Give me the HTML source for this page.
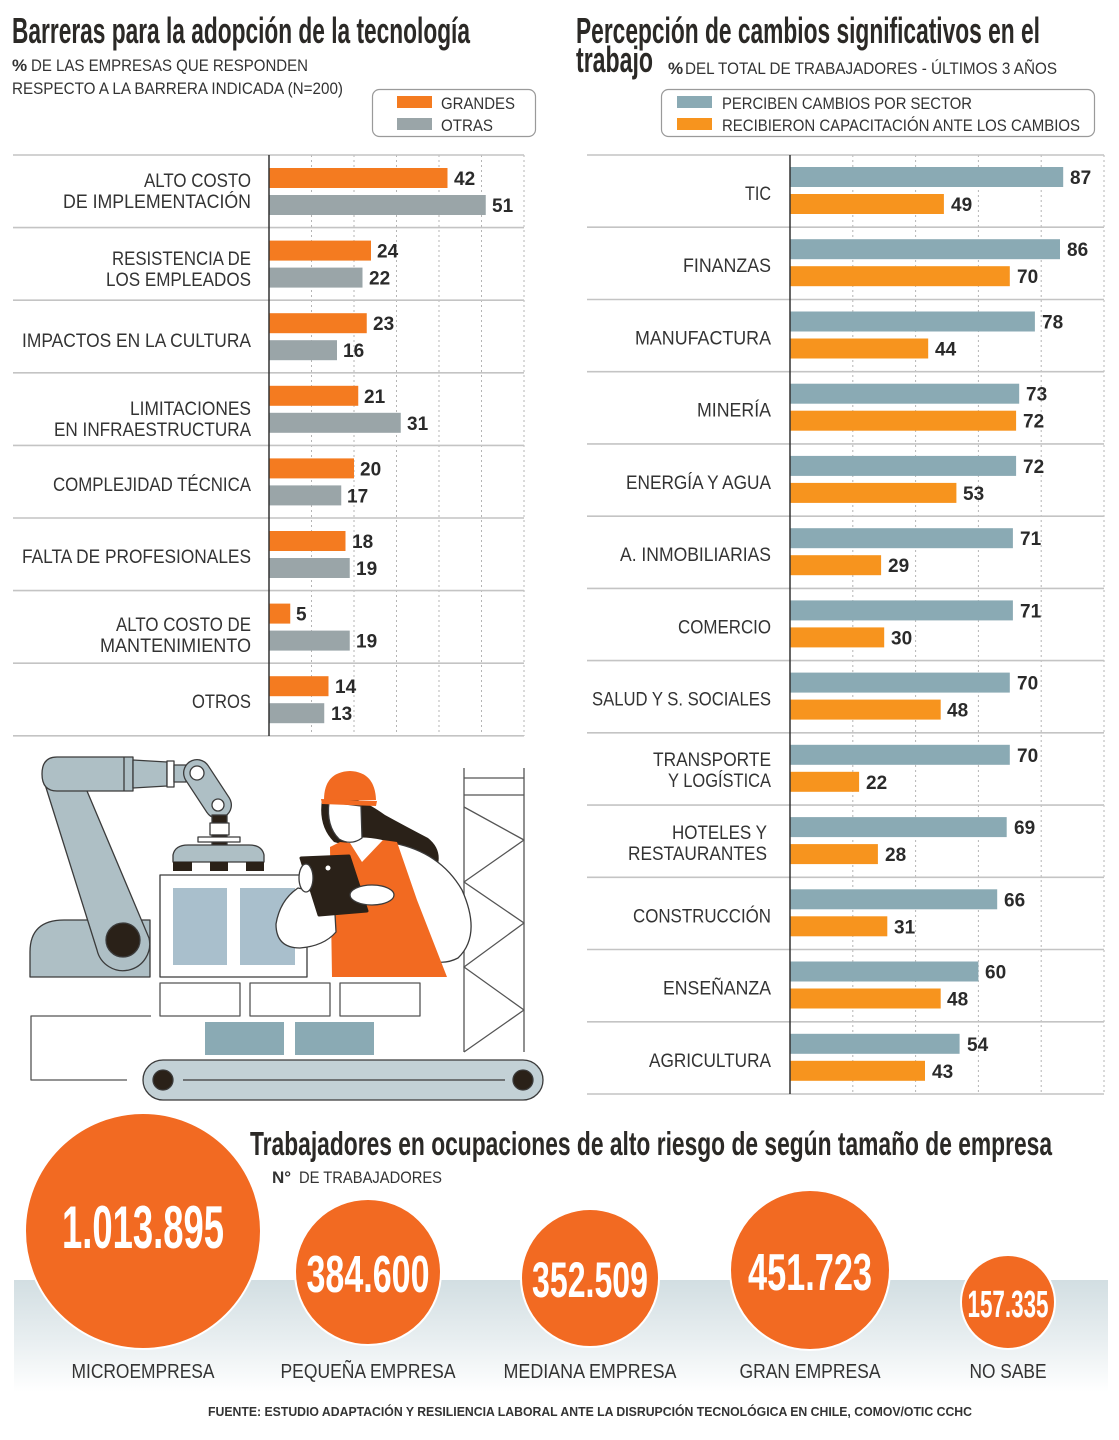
<!DOCTYPE html>
<html><head><meta charset="utf-8"><style>
html,body{margin:0;padding:0;background:#fff;}
svg{display:block;}
.t{font-family:"Liberation Sans Narrow","Liberation Sans",sans-serif;font-weight:bold;fill:#2b2926;}
.l{font-family:"Liberation Sans",sans-serif;font-size:19px;fill:#333;}
.v{font-family:"Liberation Sans",sans-serif;font-size:19px;font-weight:bold;fill:#2a2a2a;}
.s{font-family:"Liberation Sans",sans-serif;font-size:17px;fill:#333;}
.n{font-family:"Liberation Sans Narrow","Liberation Sans",sans-serif;font-weight:bold;fill:#fff;}
</style></head><body>
<svg width="1119" height="1440" viewBox="0 0 1119 1440" xmlns="http://www.w3.org/2000/svg">
<defs>
<linearGradient id="band" x1="0" y1="0" x2="0" y2="1">
<stop offset="0" stop-color="#d2dee2"/><stop offset="0.55" stop-color="#e9eff1"/><stop offset="1" stop-color="#ffffff"/>
</linearGradient>
</defs>
<rect width="1119" height="1440" fill="#fff"/>

<!-- ===== LEFT HEADER ===== -->
<text class="t" x="12" y="43" font-size="36" textLength="458" lengthAdjust="spacingAndGlyphs">Barreras para la adopción de la tecnología</text>
<text class="s" x="12" y="71" font-weight="bold" font-size="18">%</text>
<text class="s" x="31" y="71" textLength="277" lengthAdjust="spacingAndGlyphs">DE LAS EMPRESAS QUE RESPONDEN</text>
<text class="s" x="12" y="94" textLength="331" lengthAdjust="spacingAndGlyphs">RESPECTO A LA BARRERA INDICADA (N=200)</text>
<rect x="372.5" y="89.5" width="163" height="47" rx="7" fill="#fff" stroke="#9a9a9a" stroke-width="1.2"/>
<rect x="397" y="96" width="35" height="12" fill="#f47b20"/>
<rect x="397" y="118" width="35" height="12" fill="#9aa5a8"/>
<text class="s" x="441" y="109" textLength="74" lengthAdjust="spacingAndGlyphs">GRANDES</text>
<text class="s" x="441" y="131" textLength="52" lengthAdjust="spacingAndGlyphs">OTRAS</text>

<!-- ===== RIGHT HEADER ===== -->
<text class="t" x="576" y="43" font-size="36" textLength="464" lengthAdjust="spacingAndGlyphs">Percepción de cambios significativos en el</text>
<text class="t" x="576" y="72" font-size="36" textLength="77" lengthAdjust="spacingAndGlyphs">trabajo</text>
<text class="s" x="668" y="74" font-weight="bold" font-size="18">%</text>
<text class="s" x="685" y="74" textLength="372" lengthAdjust="spacingAndGlyphs">DEL TOTAL DE TRABAJADORES - ÚLTIMOS 3 AÑOS</text>
<rect x="661.5" y="89.5" width="433" height="47" rx="7" fill="#fff" stroke="#9a9a9a" stroke-width="1.2"/>
<rect x="677" y="96" width="35" height="12" fill="#8aaab4"/>
<rect x="677" y="118" width="35" height="12" fill="#f7941e"/>
<text class="s" x="722" y="109" textLength="250" lengthAdjust="spacingAndGlyphs">PERCIBEN CAMBIOS POR SECTOR</text>
<text class="s" x="722" y="131" textLength="358" lengthAdjust="spacingAndGlyphs">RECIBIERON CAPACITACIÓN ANTE LOS CAMBIOS</text>

<!-- ===== LEFT CHART ===== -->
<g stroke="#b5b5b5" stroke-width="1" stroke-dasharray="2,3">
<line x1="311.5" y1="155" x2="311.5" y2="736"/>
<line x1="354" y1="155" x2="354" y2="736"/>
<line x1="396.5" y1="155" x2="396.5" y2="736"/>
<line x1="439" y1="155" x2="439" y2="736"/>
<line x1="481.5" y1="155" x2="481.5" y2="736"/>
<line x1="524" y1="155" x2="524" y2="736"/>
</g>
<g stroke="#c4c4c4" stroke-width="1.6">
<line x1="13" y1="155" x2="524" y2="155"/>
<line x1="13" y1="227.6" x2="524" y2="227.6"/>
<line x1="13" y1="300.2" x2="524" y2="300.2"/>
<line x1="13" y1="372.8" x2="524" y2="372.8"/>
<line x1="13" y1="445.4" x2="524" y2="445.4"/>
<line x1="13" y1="518" x2="524" y2="518"/>
<line x1="13" y1="590.6" x2="524" y2="590.6"/>
<line x1="13" y1="663.2" x2="524" y2="663.2"/>
<line x1="13" y1="735.8" x2="524" y2="735.8"/>
</g>
<g fill="#f47b20">
<rect x="269" y="168" width="178.5" height="20"/>
<rect x="269" y="240.6" width="102" height="20"/>
<rect x="269" y="313.2" width="97.75" height="20"/>
<rect x="269" y="385.8" width="89.25" height="20"/>
<rect x="269" y="458.4" width="85" height="20"/>
<rect x="269" y="531" width="76.5" height="20"/>
<rect x="269" y="603.6" width="21.25" height="20"/>
<rect x="269" y="676.2" width="59.5" height="20"/>
</g>
<g fill="#9aa5a8">
<rect x="269" y="195" width="216.75" height="20"/>
<rect x="269" y="267.6" width="93.5" height="20"/>
<rect x="269" y="340.2" width="68" height="20"/>
<rect x="269" y="412.8" width="131.75" height="20"/>
<rect x="269" y="485.4" width="72.25" height="20"/>
<rect x="269" y="558" width="80.75" height="20"/>
<rect x="269" y="630.6" width="80.75" height="20"/>
<rect x="269" y="703.2" width="55.25" height="20"/>
</g>
<line x1="269" y1="155" x2="269" y2="736" stroke="#333" stroke-width="1.5"/>
<g class="v">
<text x="454" y="185">42</text><text x="492" y="212">51</text>
<text x="377" y="257.6">24</text><text x="369" y="284.6">22</text>
<text x="373" y="330.2">23</text><text x="343" y="357.2">16</text>
<text x="364" y="402.8">21</text><text x="407" y="429.8">31</text>
<text x="360" y="475.4">20</text><text x="347" y="502.4">17</text>
<text x="352" y="548">18</text><text x="356" y="575">19</text>
<text x="296" y="620.6">5</text><text x="356" y="647.6">19</text>
<text x="335" y="693.2">14</text><text x="331" y="720.2">13</text>
</g>
<g class="l" text-anchor="end">
<text x="251" y="187" textLength="107" lengthAdjust="spacingAndGlyphs">ALTO COSTO</text>
<text x="251" y="208" textLength="188" lengthAdjust="spacingAndGlyphs">DE IMPLEMENTACIÓN</text>
<text x="251" y="265" textLength="139" lengthAdjust="spacingAndGlyphs">RESISTENCIA DE</text>
<text x="251" y="286" textLength="145" lengthAdjust="spacingAndGlyphs">LOS EMPLEADOS</text>
<text x="251" y="347" textLength="229" lengthAdjust="spacingAndGlyphs">IMPACTOS EN LA CULTURA</text>
<text x="251" y="415" textLength="121" lengthAdjust="spacingAndGlyphs">LIMITACIONES</text>
<text x="251" y="436" textLength="197" lengthAdjust="spacingAndGlyphs">EN INFRAESTRUCTURA</text>
<text x="251" y="491" textLength="198" lengthAdjust="spacingAndGlyphs">COMPLEJIDAD TÉCNICA</text>
<text x="251" y="563" textLength="229" lengthAdjust="spacingAndGlyphs">FALTA DE PROFESIONALES</text>
<text x="251" y="631" textLength="135" lengthAdjust="spacingAndGlyphs">ALTO COSTO DE</text>
<text x="251" y="652" textLength="151" lengthAdjust="spacingAndGlyphs">MANTENIMIENTO</text>
<text x="251" y="708" textLength="59" lengthAdjust="spacingAndGlyphs">OTROS</text>
</g>

<!-- ===== RIGHT CHART ===== -->
<g stroke="#b5b5b5" stroke-width="1" stroke-dasharray="2,3">
<line x1="852.8" y1="155" x2="852.8" y2="1094"/>
<line x1="915.6" y1="155" x2="915.6" y2="1094"/>
<line x1="978.4" y1="155" x2="978.4" y2="1094"/>
<line x1="1041.2" y1="155" x2="1041.2" y2="1094"/>
<line x1="1104" y1="155" x2="1104" y2="1094"/>
</g>
<g stroke="#c4c4c4" stroke-width="1.6">
<line x1="587" y1="155" x2="1104" y2="155"/>
<line x1="587" y1="227.2" x2="1104" y2="227.2"/>
<line x1="587" y1="299.5" x2="1104" y2="299.5"/>
<line x1="587" y1="371.7" x2="1104" y2="371.7"/>
<line x1="587" y1="443.9" x2="1104" y2="443.9"/>
<line x1="587" y1="516.2" x2="1104" y2="516.2"/>
<line x1="587" y1="588.4" x2="1104" y2="588.4"/>
<line x1="587" y1="660.6" x2="1104" y2="660.6"/>
<line x1="587" y1="732.8" x2="1104" y2="732.8"/>
<line x1="587" y1="805.1" x2="1104" y2="805.1"/>
<line x1="587" y1="877.3" x2="1104" y2="877.3"/>
<line x1="587" y1="949.5" x2="1104" y2="949.5"/>
<line x1="587" y1="1021.8" x2="1104" y2="1021.8"/>
<line x1="587" y1="1094" x2="1104" y2="1094"/>
</g>
<g fill="#8aaab4">
<rect x="790" y="167" width="273.2" height="20"/>
<rect x="790" y="239.2" width="270" height="20"/>
<rect x="790" y="311.5" width="244.9" height="20"/>
<rect x="790" y="383.7" width="229.2" height="20"/>
<rect x="790" y="455.9" width="226.1" height="20"/>
<rect x="790" y="528.2" width="222.9" height="20"/>
<rect x="790" y="600.4" width="222.9" height="20"/>
<rect x="790" y="672.6" width="219.8" height="20"/>
<rect x="790" y="744.8" width="219.8" height="20"/>
<rect x="790" y="817.1" width="216.7" height="20"/>
<rect x="790" y="889.3" width="207.2" height="20"/>
<rect x="790" y="961.5" width="188.4" height="20"/>
<rect x="790" y="1033.8" width="169.6" height="20"/>
</g>
<g fill="#f7941e">
<rect x="790" y="194" width="153.9" height="20"/>
<rect x="790" y="266.2" width="219.8" height="20"/>
<rect x="790" y="338.5" width="138.2" height="20"/>
<rect x="790" y="410.7" width="226.1" height="20"/>
<rect x="790" y="482.9" width="166.4" height="20"/>
<rect x="790" y="555.2" width="91.1" height="20"/>
<rect x="790" y="627.4" width="94.2" height="20"/>
<rect x="790" y="699.6" width="150.7" height="20"/>
<rect x="790" y="771.8" width="69.1" height="20"/>
<rect x="790" y="844.1" width="87.9" height="20"/>
<rect x="790" y="916.3" width="97.3" height="20"/>
<rect x="790" y="988.5" width="150.7" height="20"/>
<rect x="790" y="1060.8" width="135" height="20"/>
</g>
<line x1="790" y1="155" x2="790" y2="1094" stroke="#333" stroke-width="1.5"/>
<g class="v">
<text x="1070" y="184">87</text><text x="951" y="211">49</text>
<text x="1067" y="256.2">86</text><text x="1017" y="283.2">70</text>
<text x="1042" y="328.5">78</text><text x="935" y="355.5">44</text>
<text x="1026" y="400.7">73</text><text x="1023" y="427.7">72</text>
<text x="1023" y="472.9">72</text><text x="963" y="499.9">53</text>
<text x="1020" y="545.2">71</text><text x="888" y="572.2">29</text>
<text x="1020" y="617.4">71</text><text x="891" y="644.4">30</text>
<text x="1017" y="689.6">70</text><text x="947" y="716.6">48</text>
<text x="1017" y="761.8">70</text><text x="866" y="788.8">22</text>
<text x="1014" y="834.1">69</text><text x="885" y="861.1">28</text>
<text x="1004" y="906.3">66</text><text x="894" y="933.3">31</text>
<text x="985" y="978.5">60</text><text x="947" y="1005.5">48</text>
<text x="967" y="1050.8">54</text><text x="932" y="1077.8">43</text>
</g>
<g class="l" text-anchor="end">
<text x="771" y="200" textLength="26" lengthAdjust="spacingAndGlyphs">TIC</text>
<text x="771" y="272.2" textLength="88" lengthAdjust="spacingAndGlyphs">FINANZAS</text>
<text x="771" y="344.5" textLength="136" lengthAdjust="spacingAndGlyphs">MANUFACTURA</text>
<text x="771" y="416.7" textLength="74" lengthAdjust="spacingAndGlyphs">MINERÍA</text>
<text x="771" y="488.9" textLength="145" lengthAdjust="spacingAndGlyphs">ENERGÍA Y AGUA</text>
<text x="771" y="561.2" textLength="151" lengthAdjust="spacingAndGlyphs">A. INMOBILIARIAS</text>
<text x="771" y="633.4" textLength="93" lengthAdjust="spacingAndGlyphs">COMERCIO</text>
<text x="771" y="705.6" textLength="179" lengthAdjust="spacingAndGlyphs">SALUD Y S. SOCIALES</text>
<text x="771" y="766" textLength="118" lengthAdjust="spacingAndGlyphs">TRANSPORTE</text>
<text x="771" y="787" textLength="103" lengthAdjust="spacingAndGlyphs">Y LOGÍSTICA</text>
<text x="767" y="839" textLength="95" lengthAdjust="spacingAndGlyphs">HOTELES Y</text>
<text x="767" y="860" textLength="139" lengthAdjust="spacingAndGlyphs">RESTAURANTES</text>
<text x="771" y="922.3" textLength="138" lengthAdjust="spacingAndGlyphs">CONSTRUCCIÓN</text>
<text x="771" y="994.5" textLength="108" lengthAdjust="spacingAndGlyphs">ENSEÑANZA</text>
<text x="771" y="1066.8" textLength="122" lengthAdjust="spacingAndGlyphs">AGRICULTURA</text>
</g>

<!-- ===== ILLUSTRATION ===== -->
<g stroke="#3b3b3b" stroke-width="1.3" stroke-linejoin="round">
<!-- scaffold -->
<g fill="none" stroke="#555">
<line x1="464" y1="768" x2="464" y2="1052"/>
<line x1="524" y1="768" x2="524" y2="1052"/>
<line x1="464" y1="778" x2="524" y2="778"/>
<line x1="464" y1="795" x2="524" y2="795"/>
<polyline points="464,807 524,840 464,882 524,923 464,967 524,1010 464,1052"/>
</g>
<!-- left L frame -->
<polyline points="151,1016 31,1016 31,1080 127,1080" fill="none" stroke="#555"/>
<!-- base -->
<path d="M30,977 L30,952 Q30,920 64,920 L150,920 L150,977 Z" fill="#aebfc5"/>
<!-- diagonal arm -->
<path d="M43,778 L87,791 L149,938 A26,26 0 0 1 97,950 Z" fill="#aebfc5"/>
<circle cx="123" cy="940" r="17" fill="#2a2118"/>
<!-- upper arm -->
<path d="M57,757 L133,757 L133,791 L57,791 Q42,791 42,774 Q42,757 57,757 Z" fill="#aebfc5"/>
<line x1="124" y1="757" x2="124" y2="791"/>
<path d="M133,760 L167,762 L167,786 L133,788 Z" fill="#aebfc5"/>
<rect x="167" y="761" width="7" height="26" fill="#fff"/>
<rect x="174" y="765" width="12" height="17" fill="#aebfc5"/>
<!-- elbow link -->
<line x1="197" y1="773" x2="218" y2="805" stroke="#3b3b3b" stroke-width="28" stroke-linecap="round"/>
<line x1="197" y1="773" x2="218" y2="805" stroke="#aebfc5" stroke-width="25.4" stroke-linecap="round"/>
<circle cx="197" cy="773" r="7" fill="#fff"/>
<circle cx="218" cy="805" r="6" fill="#fff"/>
<rect x="212" y="815" width="15" height="8" fill="#2a2118"/>
<rect x="210" y="823" width="19" height="12" fill="#fff"/>
<rect x="212" y="835" width="15" height="11" fill="#2a2118"/>
<rect x="198" y="837" width="42" height="5" fill="#fff"/>
<path d="M173,862 L173,855 Q175,845 188,845 L249,845 Q262,845 264,855 L264,862 Z" fill="#aebfc5"/>
<g fill="#2a2118" stroke="none">
<rect x="173" y="862" width="19" height="9"/>
<rect x="210" y="862" width="18" height="9"/>
<rect x="246" y="862" width="18" height="9"/>
</g>
<!-- machine box -->
<rect x="160" y="875" width="147" height="102" fill="#fff"/>
<rect x="173" y="888" width="54" height="77" fill="#a9bfcc" stroke="none"/>
<rect x="240" y="888" width="55" height="77" fill="#a9bfcc" stroke="none"/>
<!-- bricks -->
<rect x="160" y="983" width="80" height="33" fill="#fff" stroke="#555"/>
<rect x="250" y="983" width="80" height="33" fill="#fff" stroke="#555"/>
<rect x="340" y="983" width="80" height="33" fill="#fff" stroke="#555"/>
<rect x="205" y="1022" width="79" height="33" fill="#8aaab4" stroke="none"/>
<rect x="295" y="1022" width="79" height="33" fill="#8aaab4" stroke="none"/>
<!-- conveyor -->
<rect x="143" y="1060" width="400" height="40" rx="20" fill="#c3d1d6"/>
<line x1="183" y1="1080" x2="505" y2="1080"/>
<circle cx="163" cy="1080" r="10" fill="#2a2118"/>
<circle cx="523" cy="1080" r="10" fill="#2a2118"/>
<!-- woman -->
<path d="M322,800 Q318,826 334,842 L345,845 L352,838 Q372,836 393,843 Q418,856 437,868 Q443,850 428,838 Q405,826 385,815 Q368,803 358,800 Z" fill="#2a2118" stroke="none"/>
<path d="M393,843 Q440,852 462,890 Q482,935 458,958 Q435,970 412,948 Q396,928 386,905 Z" fill="#fff"/>
<polygon points="340,842 330,847 332,977 447,977 417,900 397,842 383,840 362,862 350,843" fill="#f26a21" stroke="none"/>
<path d="M298,888 Q280,900 276,924 Q276,948 300,948 Q324,946 336,932 L334,896 Z" fill="#fff"/>
<path d="M329,802 Q326,826 339,839 Q351,846 362,838 L361,806 Z" fill="#fff"/>
<path d="M324,800 Q324,772 350,771 Q375,772 376,800 Z" fill="#f26a21" stroke="none"/>
<path d="M321,799 L377,801 L376,806 L322,804 Z" fill="#f26a21" stroke="none"/>
<path d="M301,858 L349,856 L367,911 L319,915 Z" fill="#2a2118" stroke="#2a2118" stroke-width="3"/>
<circle cx="328" cy="868" r="2.5" fill="#fff" stroke="none"/>
<ellipse cx="306" cy="878" rx="7" ry="14" fill="#fff"/>
<ellipse cx="372" cy="895" rx="22" ry="10" fill="#fff"/>
</g>

<!-- ===== BOTTOM ===== -->
<text class="t" x="250" y="1155" font-size="33" textLength="802" lengthAdjust="spacingAndGlyphs">Trabajadores en ocupaciones de alto riesgo de según tamaño de empresa</text>
<text class="s" x="272" y="1183" font-weight="bold" font-size="19">N°</text>
<text class="s" x="299" y="1183" textLength="143" lengthAdjust="spacingAndGlyphs">DE TRABAJADORES</text>
<rect x="14" y="1280" width="1094" height="112" fill="url(#band)"/>
<g fill="#f26a22" stroke="#fff" stroke-width="2">
<circle cx="143" cy="1231" r="118"/>
<circle cx="368" cy="1272" r="73"/>
<circle cx="590" cy="1278" r="69"/>
<circle cx="810" cy="1270" r="80"/>
<circle cx="1008" cy="1302" r="47"/>
</g>
<g class="n" text-anchor="middle">
<text x="143" y="1248" font-size="60" textLength="162" lengthAdjust="spacingAndGlyphs">1.013.895</text>
<text x="368" y="1292" font-size="52" textLength="123" lengthAdjust="spacingAndGlyphs">384.600</text>
<text x="590" y="1297" font-size="50" textLength="116" lengthAdjust="spacingAndGlyphs">352.509</text>
<text x="810" y="1290" font-size="52" textLength="124" lengthAdjust="spacingAndGlyphs">451.723</text>
<text x="1008" y="1317" font-size="38" textLength="81" lengthAdjust="spacingAndGlyphs">157.335</text>
</g>
<g class="l" text-anchor="middle" style="font-size:20px">
<text x="143" y="1378" textLength="143" lengthAdjust="spacingAndGlyphs">MICROEMPRESA</text>
<text x="368" y="1378" textLength="175" lengthAdjust="spacingAndGlyphs">PEQUEÑA EMPRESA</text>
<text x="590" y="1378" textLength="173" lengthAdjust="spacingAndGlyphs">MEDIANA EMPRESA</text>
<text x="810" y="1378" textLength="141" lengthAdjust="spacingAndGlyphs">GRAN EMPRESA</text>
<text x="1008" y="1378" textLength="77" lengthAdjust="spacingAndGlyphs">NO SABE</text>
</g>
<text x="208" y="1416" font-family="Liberation Sans, sans-serif" font-size="13" font-weight="bold" fill="#333" textLength="764" lengthAdjust="spacingAndGlyphs">FUENTE: ESTUDIO ADAPTACIÓN Y RESILIENCIA LABORAL ANTE LA DISRUPCIÓN TECNOLÓGICA EN CHILE, COMOV/OTIC CCHC</text>
</svg>
</body></html>
